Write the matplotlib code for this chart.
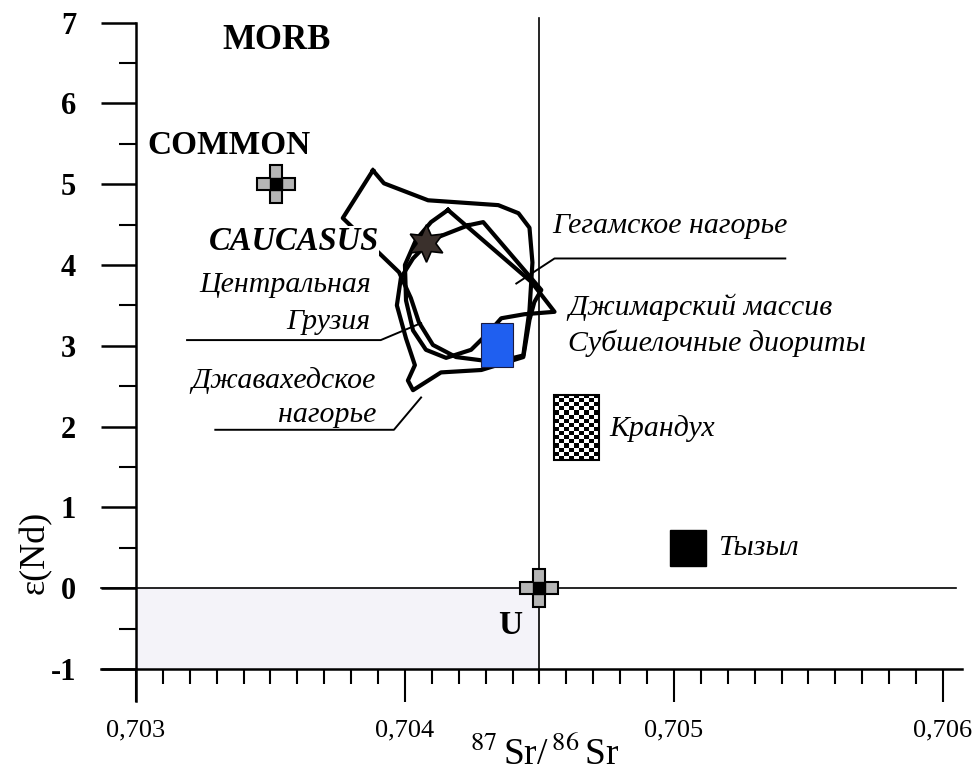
import numpy as np
import matplotlib
matplotlib.use("Agg")
import matplotlib.pyplot as plt
from matplotlib.patches import Rectangle
from matplotlib.ticker import FixedLocator, MultipleLocator, FixedFormatter

plt.rcParams['font.family'] = ['Liberation Serif', 'DejaVu Serif']
plt.rcParams['mathtext.fontset'] = 'stix'

# axis ticks
x_ticks = [0.703, 0.704, 0.705, 0.706]
x_ticklabels = ['0,703', '0,704', '0,705', '0,706']
y_ticks = [-1, 0, 1, 2, 3, 4, 5, 6, 7]
y_ticklabels = ['-1', '0', '1', '2', '3', '4', '5', '6', '7']

# reference points (Sr ratio, eps Nd)
common_sr, common_nd = 0.70352, 5.0
u_sr, u_nd = 0.7045, 0.0
caucasus_sr, caucasus_nd = 0.70408, 4.27

# fields (closed outlines)
field1_sr = [0.703881, 0.703922, 0.704086, 0.704347, 0.704422, 0.704463, 0.704474,
             0.704463, 0.704440, 0.704403, 0.704284, 0.704190, 0.704104, 0.704052,
             0.704022, 0.703978, 0.703903, 0.703769, 0.703881]
field1_nd = [5.17, 5.01, 4.80, 4.74, 4.64, 4.46, 4.03, 3.44, 2.88, 2.85, 2.82, 2.86,
             3.01, 3.29, 3.59, 3.91, 4.15, 4.58, 5.17]

field2_sr = [0.704160, 0.704470, 0.704556, 0.704444, 0.704358, 0.704313, 0.704246,
             0.704153, 0.704078, 0.704030, 0.704004, 0.704000, 0.704041, 0.704097,
             0.704160]
field2_nd = [4.68, 3.79, 3.42, 3.39, 3.34, 3.17, 2.95, 2.85, 2.95, 3.19, 3.56, 4.00,
             4.31, 4.53, 4.68]

field3_sr = [0.704235, 0.704291, 0.704507, 0.704481, 0.704463, 0.704440, 0.704284,
             0.704134, 0.704030, 0.704011, 0.704037, 0.704004, 0.703970, 0.703985,
             0.704030, 0.704097, 0.704235]
field3_nd = [4.49, 4.53, 3.69, 3.54, 3.32, 2.86, 2.70, 2.67, 2.45, 2.57, 2.76, 3.09,
             3.50, 3.84, 4.08, 4.31, 4.49]

# sample boxes: (sr_min, sr_max, nd_min, nd_max)
jimarsky_box = (0.704284, 0.704403, 2.74, 3.28)
kranduh_box = (0.704556, 0.704720, 1.58, 2.39)
tyzyl_box = (0.704985, 0.705119, 0.27, 0.72)

# leader lines
lead_georgia_sr = [0.703190, 0.703910, 0.704060]
lead_georgia_nd = [3.07, 3.07, 3.28]
lead_javakh_sr = [0.703295, 0.703959, 0.704060]
lead_javakh_nd = [1.96, 1.96, 2.36]
lead_gegam_sr = [0.705414, 0.704556, 0.704414]
lead_gegam_nd = [4.08, 4.08, 3.77]

fig = plt.figure(figsize=(9.76, 7.76), dpi=100)
ax = fig.add_axes([0.1393, 0.1379, 0.8268, 0.8331])
ax.set_xlim(0.703, 0.706)
ax.set_ylim(-1, 7)
for s in ax.spines.values():
    s.set_visible(False)

# axis lines drawn by hand so they cross each other
ax.plot([0.70287, 0.70607], [-1, -1], color='black', lw=1.8, clip_on=False, zorder=3)
ax.plot([0.703, 0.703], [-1.39, 7], color='black', lw=1.8, clip_on=False, zorder=3)
ax.plot([0.70287, 0.70605], [0, 0], color='black', lw=1.2, clip_on=False, zorder=2)
ax.plot([0.7045, 0.7045], [-1, 7.05], color='black', lw=1.2, clip_on=False, zorder=2)

ax.add_patch(Rectangle((0.703, -1), 0.0015, 1, facecolor='#f4f3f9', edgecolor='none', zorder=0))

ax.xaxis.set_major_locator(FixedLocator(x_ticks))
ax.xaxis.set_major_formatter(FixedFormatter(x_ticklabels))
ax.xaxis.set_minor_locator(MultipleLocator(0.0001))
ax.yaxis.set_major_locator(FixedLocator(y_ticks))
ax.yaxis.set_major_formatter(FixedFormatter(y_ticklabels))
ax.yaxis.set_minor_locator(MultipleLocator(0.5))
ax.tick_params(axis='y', which='major', direction='out', length=25, width=1.8, pad=18, labelsize=22)
ax.tick_params(axis='y', which='minor', direction='out', length=12, width=1.5)
ax.tick_params(axis='x', which='major', direction='out', length=24, width=1.5, pad=12, labelsize=19)
ax.tick_params(axis='x', which='minor', direction='out', length=11, width=1.5)
for lbl in ax.get_yticklabels():
    lbl.set_fontweight('bold')

# fields
for fx, fy in [(field1_sr, field1_nd), (field2_sr, field2_nd), (field3_sr, field3_nd)]:
    ax.plot(fx, fy, color='black', lw=3.0, solid_joinstyle='round', zorder=4)

for lx, ly in [(lead_georgia_sr, lead_georgia_nd), (lead_javakh_sr, lead_javakh_nd),
               (lead_gegam_sr, lead_gegam_nd)]:
    ax.plot(lx, ly, color='black', lw=1.4, zorder=4)

# boxes
x0, x1, y0, y1 = jimarsky_box
ax.add_patch(Rectangle((x0, y0), x1 - x0, y1 - y0, facecolor='#1f5ff0', edgecolor='#1a1a40', lw=0.8, zorder=6))
x0, x1, y0, y1 = kranduh_box
checker = (np.indices((16, 9)).sum(axis=0) % 2).astype(float)
ax.imshow(checker, cmap='gray', extent=(x0, x1, y0, y1), aspect='auto',
          interpolation='nearest', zorder=6)
ax.add_patch(Rectangle((x0, y0), x1 - x0, y1 - y0, facecolor='none', edgecolor='black', lw=1.5, zorder=7))
x0, x1, y0, y1 = tyzyl_box
ax.add_patch(Rectangle((x0, y0), x1 - x0, y1 - y0, facecolor='black', edgecolor='black', zorder=6))

# reservoir markers
for sx, sy in [(common_sr, common_nd), (u_sr, u_nd)]:
    ax.plot(sx, sy, marker='P', ms=27, mfc='#b5b5b5', mec='black', mew=1.5, zorder=7, clip_on=False)
    ax.plot(sx, sy, marker='s', ms=9, mfc='black', mec='black', zorder=8, clip_on=False)
ax.plot(caucasus_sr, caucasus_nd, marker=(6, 1, 0), ms=27, mfc='#3a302c', mec='black', mew=1.2, zorder=7)

# labels
bold = dict(fontweight='bold', color='black')
ax.text(0.703321, 6.78, 'MORB', ha='left', va='center', fontsize=25, **bold)
ax.text(0.703041, 5.48, 'COMMON', ha='left', va='center', fontsize=24, **bold)
ax.text(0.703903, 4.29, 'CAUCASUS', ha='right', va='center', style='italic', zorder=5, fontsize=23.5,
        bbox=dict(facecolor='white', edgecolor='none', pad=0), **bold)
ax.text(0.704392, -0.46, 'U', ha='center', va='center', fontsize=24, **bold)

ital = dict(fontsize=21.5, style='italic', color='black')
ax.text(0.703873, 3.75, 'Центральная', ha='right', va='center', **ital)
ax.text(0.703873, 3.29, 'Грузия', ha='right', va='center', **ital)
ax.text(0.703892, 2.57, 'Джавахедское', ha='right', va='center', **ital)
ax.text(0.703892, 2.14, 'нагорье', ha='right', va='center', **ital)
ax.text(0.704549, 4.48, 'Гегамское нагорье', ha='left', va='center', **ital)
ax.text(0.704608, 3.47, 'Джимарский массив', ha='left', va='center', **ital)
ax.text(0.704608, 3.03, 'Субшелочные диориты', ha='left', va='center', **ital)
ax.text(0.704761, 1.98, 'Крандух', ha='left', va='center', **ital)
ax.text(0.705164, 0.50, 'Тызыл', ha='left', va='center', **ital)

ax.set_xlabel(r'$^{87}\,$Sr/$\,^{86}\,$Sr', fontsize=27, va='center')
ax.xaxis.set_label_coords(0.507, -0.132)
ax.set_ylabel('ε(Nd)', fontsize=26)
ax.yaxis.set_label_coords(-0.104, 0.18)

fig.savefig('out.png', dpi=100)
